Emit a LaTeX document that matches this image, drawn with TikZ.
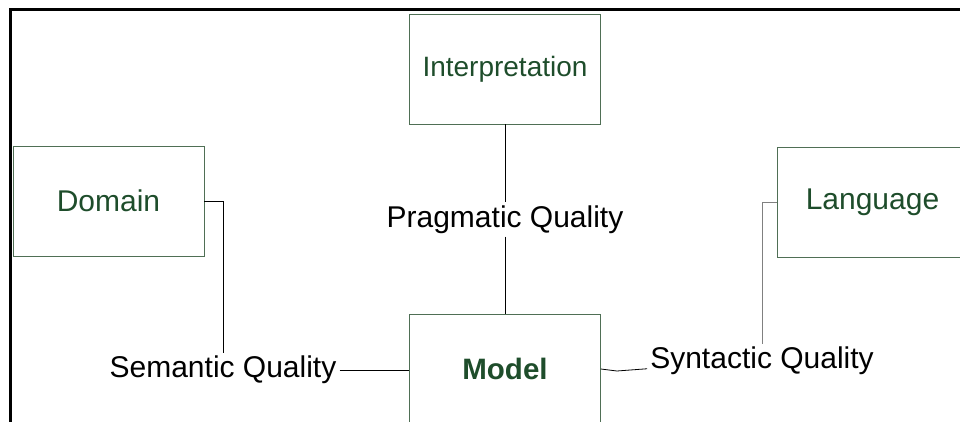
\documentclass[tikz,border=0pt]{standalone}
\usepackage{fontspec}
\setmainfont{Liberation Sans}
\definecolor{qgreen}{HTML}{1E4D2B}
\definecolor{qedge}{HTML}{4F6F55}
\definecolor{qgray}{HTML}{808080}

\begin{document}
\begin{tikzpicture}[x=1pt, y=-1pt,
    concept/.style={draw=qedge, text=qgreen, line width=0.8pt,
        minimum width=191pt, minimum height=110pt,
        font=\fontsize{30}{34}\selectfont},
    quality/.style={font=\fontsize{30}{34}\selectfont, inner sep=3pt},
    link/.style={line width=0.8pt}]
    \useasboundingbox (0, 0) rectangle (960, 422);
    \draw[line width=3pt] (10, 422) -- (10, 10) -- (960, 10);

    \node[concept, font=\fontsize{28}{32}\selectfont] (interp) at (505, 69) {Interpretation};
    \node[concept] (domain) at (108.5, 201) {Domain};
    \node[concept] (lang) at (872.5, 202) {Language};
    \node[concept, font=\fontsize{29.5}{32}\selectfont\bfseries] (model) at (505, 369) {Model};

    \node[quality] (pragq) at (505, 219.5) {Pragmatic Quality};
    \node[quality] (semq) at (223, 370) {Semantic Quality};
    \node[quality] (synq) at (762, 361) {Syntactic Quality};

    \draw[link] (interp) -- (pragq);
    \draw[link] (pragq) -- (model);
    \draw[link] (domain.east) -| (semq.north);
    \draw[link] (semq.east) -- (semq.east -| model.west);
    \draw[link, qgray] (lang.west) -| (synq.north);
    \draw[link] (model.east) -- ++(16, 2) -- (synq.base west);
\end{tikzpicture}
\end{document}
